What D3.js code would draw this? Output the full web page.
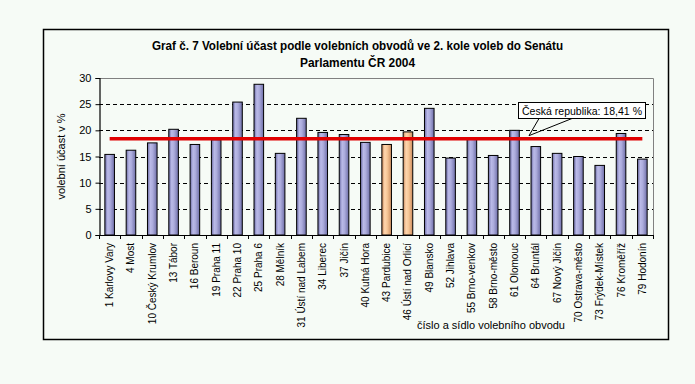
<!DOCTYPE html>
<html>
<head>
<meta charset="utf-8">
<title>Graf č. 7 Volební účast</title>
<style>
	body { margin: 0; background: #f6fbf6; }
	svg { display: block; font-family: 'Liberation Sans', Arial, sans-serif; }
</style>
</head>
<body>
<svg width="695" height="384"></svg>
<script src="https://d3js.org/d3.v7.min.js"></script>
<script>
	// obvody (cislo a sidlo) a volebni ucast v %
	let districts = ['1 Karlovy Vary', '4 Most', '10 Český Krumlov', '13 Tábor', '16 Beroun',
		'19 Praha 11', '22 Praha 10', '25 Praha 6', '28 Mělník', '31 Ústí nad Labem',
		'34 Liberec', '37 Jičín', '40 Kutná Hora', '43 Pardubice', '46 Ústí nad Orlicí',
		'49 Blansko', '52 Jihlava', '55 Brno-venkov', '58 Brno-město', '61 Olomouc',
		'64 Bruntál', '67 Nový Jičín', '70 Ostrava-město', '73 Frýdek-Místek',
		'76 Kroměříž', '79 Hodonín']
	let turnout = [15.4, 16.2, 17.6, 20.2, 17.3, 18.2, 25.4, 28.8, 15.6, 22.3,
		19.6, 19.2, 17.7, 17.3, 19.7, 24.2, 14.7, 18.3, 15.2, 20.0,
		16.9, 15.6, 15.0, 13.3, 19.4, 14.5]
	let highlighted = ['43 Pardubice', '46 Ústí nad Orlicí']
	let yTicks = [0, 5, 10, 15, 20, 25, 30]
	let czAverage = 18.41
	let czLabel = 'Česká republika: 18,41 %'

	let svg = d3.select('svg')

	let plotLeft = 99, plotRight = 653, plotTop = 78, plotBottom = 235

	let x = d3.scaleBand()
		.domain(districts)
		.range([plotLeft, plotRight])
		.paddingInner(0.55)
		.paddingOuter(0.275)

	let y = d3.scaleLinear()
		.domain([0, 30])
		.range([plotBottom, plotTop])

	// gradients for the cylinder-ish bars
	let defs = svg.append('defs')
	function grad(id, stops) {
		let g = defs.append('linearGradient').attr('id', id)
			.attr('x1', 0).attr('x2', 1).attr('y1', 0).attr('y2', 0)
		stops.forEach(s => g.append('stop').attr('offset', s[0]).attr('stop-color', s[1]))
	}
	grad('blue', [[0, '#6a6aa4'], [0.3, '#babae8'], [0.55, '#acacdc'], [1, '#6e6ea8']])
	grad('orange', [[0, '#c8875a'], [0.3, '#ffd6ae'], [0.55, '#f8c898'], [1, '#cc8c5e']])

	// outer frame
	svg.append('rect')
		.attr('x', 43.5).attr('y', 29.5)
		.attr('width', 625).attr('height', 310)
		.style('fill', '#f6fbf6')
		.style('stroke', 'black')
		.style('stroke-width', 1.5)

	// title
	svg.append('text')
		.attr('x', 357.5).attr('y', 50)
		.attr('text-anchor', 'middle')
		.attr('textLength', 411).attr('lengthAdjust', 'spacingAndGlyphs')
		.style('font-family', "'Liberation Sans Narrow', 'Liberation Sans', Arial, sans-serif")
		.style('font-weight', 'bold').style('font-size', '13px')
		.text('Graf č. 7 Volební účast podle volebních obvodů ve 2. kole voleb do Senátu')
	svg.append('text')
		.attr('x', 357.5).attr('y', 66.5)
		.attr('text-anchor', 'middle')
		.attr('textLength', 115).attr('lengthAdjust', 'spacingAndGlyphs')
		.style('font-family', "'Liberation Sans Narrow', 'Liberation Sans', Arial, sans-serif")
		.style('font-weight', 'bold').style('font-size', '13px')
		.text('Parlamentu ČR 2004')

	// plot area border (top + right, gray)
	svg.append('path')
		.attr('d', `M${plotLeft},${plotTop + 0.5}H${plotRight + 0.5}V${plotBottom}`)
		.style('fill', 'none')
		.style('stroke', '#808080')
		.style('stroke-width', 1)

	// dashed gridlines
	svg.append('g')
		.selectAll('line')
		.data(yTicks.filter(t => t > 0 && t < 30))
		.join('line')
		.attr('x1', plotLeft).attr('x2', plotRight)
		.attr('y1', d => Math.round(y(d)) + 0.5)
		.attr('y2', d => Math.round(y(d)) + 0.5)
		.style('stroke', 'black')
		.style('stroke-dasharray', '4,3')

	// bars
	svg.append('g')
		.selectAll('rect')
		.data(districts)
		.join('rect')
		.attr('x', d => x(d))
		.attr('y', (d, i) => y(turnout[i]))
		.attr('width', x.bandwidth())
		.attr('height', (d, i) => y(0) - y(turnout[i]))
		.style('fill', d => highlighted.includes(d) ? 'url(#orange)' : 'url(#blue)')
		.style('stroke', 'black')
		.style('stroke-width', 1)

	// y axis
	let yAxis = svg.append('g')
		.attr('transform', `translate(${plotLeft + 0.5},0)`)
		.call(d3.axisLeft(y).tickValues(yTicks).tickSize(4).tickPadding(4))
	yAxis.select('.domain').attr('stroke', 'black').attr('stroke-width', 1.2)
	yAxis.selectAll('.tick line').attr('stroke', 'black')
	yAxis.selectAll('.tick text')
		.style('font-size', '11px')
		.style('font-family', "'Liberation Sans', Arial, sans-serif")
		.attr('fill', 'black')

	// x axis line + ticks at band edges
	let step = x.step()
	let edges = d3.range(districts.length + 1).map(i => plotLeft + i * step)
	svg.append('line')
		.attr('x1', plotLeft).attr('x2', plotRight + 0.5)
		.attr('y1', plotBottom + 0.5).attr('y2', plotBottom + 0.5)
		.style('stroke', 'black').style('stroke-width', 1.2)
	svg.append('g')
		.selectAll('line')
		.data(edges)
		.join('line')
		.attr('x1', d => Math.round(d) + 0.5).attr('x2', d => Math.round(d) + 0.5)
		.attr('y1', plotBottom).attr('y2', plotBottom + 4)
		.style('stroke', 'black')

	// x labels, rotated
	svg.append('g')
		.selectAll('text')
		.data(districts)
		.join('text')
		.attr('transform', d => `translate(${x(d) + x.bandwidth() / 2 + 3.5},243) rotate(-90)`)
		.attr('text-anchor', 'end')
		.style('font-size', '10px')
		.text(d => d)

	// axis titles
	svg.append('text')
		.attr('transform', `translate(65,${(plotTop + plotBottom) / 2}) rotate(-90)`)
		.attr('text-anchor', 'middle')
		.style('font-size', '11px')
		.text('volební účast v %')
	svg.append('text')
		.attr('x', 491).attr('y', 329)
		.attr('text-anchor', 'middle')
		.style('font-size', '11px')
		.text('číslo a sídlo volebního obvodu')

	// republic average line
	let first = districts[0], last = districts[districts.length - 1]
	svg.append('line')
		.attr('x1', x(first) + x.bandwidth() / 2)
		.attr('x2', x(last) + x.bandwidth() / 2)
		.attr('y1', y(czAverage)).attr('y2', y(czAverage))
		.style('stroke', '#e00000')
		.style('stroke-width', 3.5)

	// callout
	let tipX = 529, tipY = y(czAverage) - 3
	svg.append('path')
		.attr('d', `M539,118.5L${tipX},${tipY}L572,118.5`)
		.style('fill', 'none')
		.style('stroke', 'black')
	svg.append('rect')
		.attr('x', 518.5).attr('y', 102.5)
		.attr('width', 127).attr('height', 16)
		.style('fill', 'white')
		.style('stroke', 'black')
	svg.append('text')
		.attr('x', 522).attr('y', 114.5)
		.attr('textLength', 120).attr('lengthAdjust', 'spacingAndGlyphs')
		.style('font-size', '11px')
		.text(czLabel)
</script>
</body>
</html>
